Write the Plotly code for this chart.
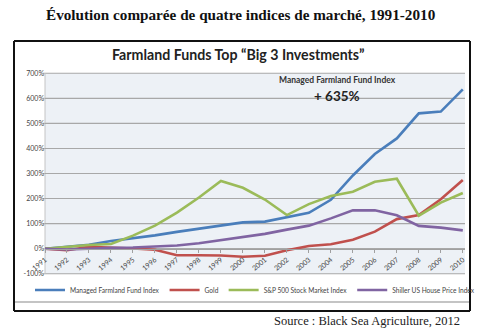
import plotly.graph_objects as go

years = list(range(1991, 2011))
farmland = [0, 7, 16, 31, 41, 53, 67, 79, 93, 105, 108, 124, 143, 195, 292, 378, 440, 540, 547, 636]
gold = [0, -6, 8, 5, 1, -4, -26, -26, -27, -32, -28, -6, 11, 18, 36, 68, 118, 134, 197, 274]
sp500 = [0, 8, 15, 19, 52, 92, 144, 204, 270, 243, 196, 134, 178, 210, 227, 267, 279, 132, 184, 222]
shiller = [0, -3, 0, 4, 5, 8, 13, 22, 34, 47, 59, 76, 92, 121, 153, 153, 133, 91, 84, 73]

names = ["Managed Farmland Fund Index", "Gold", "S&P 500 Stock Market Index", "Shiller US House Price Index"]
colors = ["#4a7ebb", "#c0504d", "#9bbb59", "#8064a2"]
yticks = [-100, 0, 100, 200, 300, 400, 500, 600, 700]
yticktext = ["%d%%" % v for v in yticks]
YMIN, YMAX = -101, 701

W, H = 480, 331
L, T = 45, 73
PW, PH = 420, 201

def px(x):
    return (x - L) / PW

def py(y):
    return (T + PH - y) / PH

def yfrac(v):
    return (v - YMIN) / (YMAX - YMIN)

fig = go.Figure()
for s, n, c in zip([farmland, gold, sp500, shiller], names, colors):
    fig.add_trace(go.Scatter(x=years, y=s, name=n, mode="lines",
                             line=dict(color=c, width=2.6)))

shapes = []
# horizontal gridlines at the y tick values
for v in yticks:
    shapes.append(dict(type="line", xref="paper", yref="paper", x0=-0.005, x1=1,
                       y0=yfrac(v), y1=yfrac(v),
                       line=dict(color="#a8a8a8", width=1.1), layer="below"))
# left axis line
shapes.append(dict(type="line", xref="paper", yref="paper", x0=0, x1=0, y0=0, y1=1,
                   line=dict(color="#c4c4c4", width=1), layer="below"))
# separator inside the frame
shapes.append(dict(type="line", xref="paper", yref="paper",
                   x0=px(15), x1=px(469), y0=py(302), y1=py(302),
                   line=dict(color="#b0b0b0", width=1.5)))
# outer frame drawn as four lines
fx0, fx1, fy0, fy1 = px(14), px(470), py(311), py(41)
for (a, b, c, d) in [(fx0, fy0, fx1, fy0), (fx0, fy1, fx1, fy1),
                     (fx0, fy0, fx0, fy1), (fx1, fy0, fx1, fy1)]:
    shapes.append(dict(type="line", xref="paper", yref="paper",
                       x0=a, y0=b, x1=c, y1=d,
                       line=dict(color="#111111", width=2)))

ann = [
    dict(text="<b>Évolution comparée de quatre indices de marché, 1991-2010</b>",
         x=px(241), y=py(15), font=dict(family="Liberation Serif", size=15.2, color="#111")),
    dict(text="<b>Farmland Funds Top “Big 3 Investments”</b>",
         x=px(238), y=py(55), font=dict(family="Lato", size=14.2, color="#222")),
    dict(text="<b>Managed Farmland Fund Index</b>",
         x=px(337), y=py(80), font=dict(family="Lato", size=8.5, color="#333")),
    dict(text="<b>+ 635%</b>",
         x=px(337), y=py(96), font=dict(family="Lato", size=13.5, color="#222")),
    dict(text="Source : Black Sea Agriculture, 2012",
         x=px(462), y=py(321), xanchor="right",
         font=dict(family="Liberation Serif", size=12.5, color="#222")),
]
for a in ann:
    a.update(xref="paper", yref="paper", showarrow=False)
    a.setdefault("xanchor", "center")
    a["yanchor"] = "middle"

fig.update_layout(
    width=W, height=H,
    margin=dict(l=L, r=W - L - PW, t=T, b=H - T - PH, pad=0),
    paper_bgcolor="white", plot_bgcolor="#edf1f6",
    shapes=shapes, annotations=ann,
    showlegend=True,
    legend=dict(orientation="h", x=-0.002, y=py(290), xanchor="left", yanchor="middle",
                font=dict(family="Lato", size=6.6, color="#444"),
                itemwidth=30, bgcolor="rgba(0,0,0,0)", tracegroupgap=0),
    xaxis=dict(range=[1991, 2010.1], tickmode="array", tickvals=years,
               ticktext=[str(y) for y in years], tickangle=-40,
               anchor="free", position=py(249), showgrid=False,
               showline=True, linecolor="#a0a0a0", linewidth=1,
               ticks="outside", ticklen=3, tickcolor="#a0a0a0",
               tickfont=dict(family="Lato", size=7, color="#444"), zeroline=False),
    yaxis=dict(range=[YMIN, YMAX], tickmode="array", tickvals=yticks, ticktext=yticktext,
               showgrid=True, gridcolor="#a8a8a8", gridwidth=1,
               showline=False, zeroline=False, ticks="",
               tickfont=dict(family="Lato", size=7, color="#444")),
)

fig.write_html("out.html")
